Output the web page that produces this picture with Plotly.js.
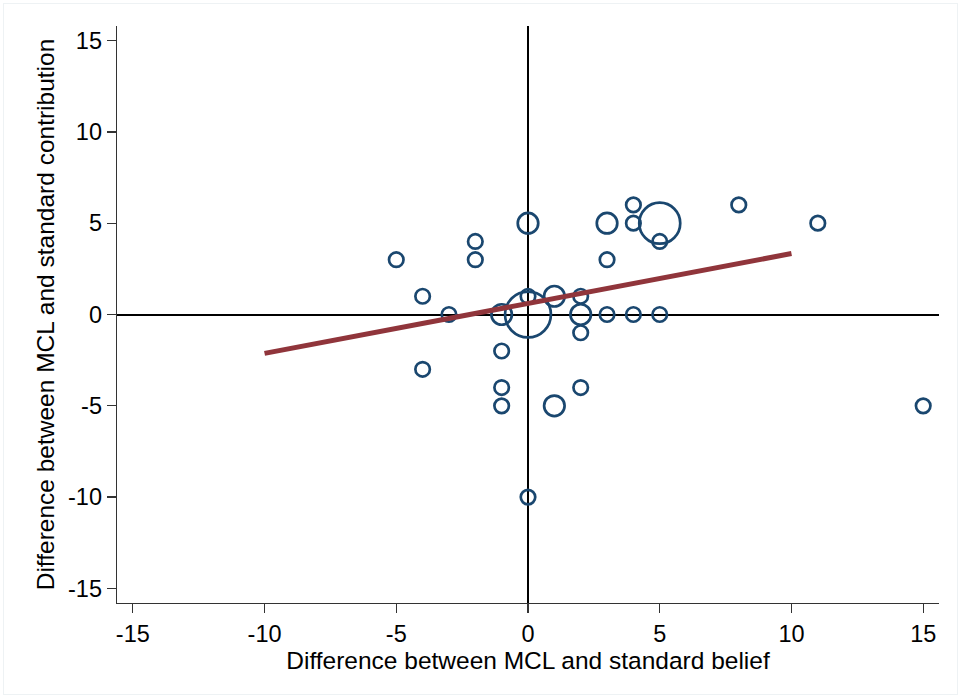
<!DOCTYPE html>
<html>
<head>
<meta charset="utf-8">
<script src="https://cdn.plot.ly/plotly-3.0.1.min.js"></script>
<style>
  html, body { margin: 0; padding: 0; background: #ffffff; }
  #wrap { position: relative; width: 963px; height: 700px; }
  #frame { position: absolute; left: 3px; top: 3px; width: 955px; height: 692px; border: 1px solid #eef2f4; box-sizing: border-box; pointer-events: none; }
  #chart { position: absolute; left: 0; top: 0; width: 963px; height: 700px; }
</style>
</head>
<body>
<div id="wrap">
  <div id="chart"></div>
  <div id="frame"></div>
</div>
<script>
// Observed points: belief difference (x), contribution difference (y), frequency weight
const beliefDiff = [-5, -2, -2, -4, -3, -1, 0, 0, 1, 2, 2, 2, 3, 4, 5, 0, 3, 3, 4, 4, 5, 5, -1, -4, -1, -1, 1, 2, 0, 8, 11, 15];
const contribDiff = [3, 4, 3, 1, 0, 0, 0, 1, 1, 1, 0, -1, 0, 0, 0, 5, 5, 3, 6, 5, 5, 4, -2, -3, -4, -5, -5, -4, -10, 6, 5, -5];
const weights = [1, 1, 1, 1, 1, 2, 10, 1, 2, 1, 2, 1, 1, 1, 1, 2, 2, 1, 1, 1, 8, 1, 1, 1, 1, 1, 2, 1, 1, 1, 1, 1];

// Linear fit line
const fitX = [-10, 10];
const fitY = [-2.13, 3.34];

const xTicks = [-15, -10, -5, 0, 5, 10, 15];
const yTicks = [-15, -10, -5, 0, 5, 10, 15];

const baseMarker = 14.5;
const markerSizes = weights.map(w => baseMarker * Math.sqrt(w));

const traces = [
  {
    type: 'scatter', mode: 'markers',
    x: beliefDiff, y: contribDiff,
    marker: {
      symbol: 'circle',
      size: markerSizes,
      opacity: 1,
      color: 'rgba(0,0,0,0)',
      line: { color: '#1a476f', width: 2.7 }
    },
    hoverinfo: 'x+y',
    showlegend: false
  },
  {
    type: 'scatter', mode: 'lines',
    x: fitX, y: fitY,
    line: { color: '#90353b', width: 5 },
    showlegend: false
  }
];

const fontFam = '"Liberation Sans", Arial, sans-serif';

const layout = {
  width: 963, height: 700,
  paper_bgcolor: 'rgba(0,0,0,0)',
  plot_bgcolor: '#ffffff',
  margin: { l: 117, r: 24, t: 26, b: 97 },
  font: { family: fontFam, color: '#000000', size: 23.5 },
  showlegend: false,
  xaxis: {
    range: [-15.6, 15.6],
    tickmode: 'array', tickvals: xTicks, ticktext: xTicks.map(String),
    ticks: 'outside', ticklen: 9, tickwidth: 1.3, tickcolor: '#333333',
    showline: true, linecolor: '#333333', linewidth: 1.3,
    showgrid: false,
    zeroline: true, zerolinecolor: '#000000', zerolinewidth: 2,
    tickfont: { family: fontFam, size: 23.5, color: '#000000' },
    title: { text: 'Difference between MCL and standard belief', font: { family: fontFam, size: 24.5, color: '#000000' }, standoff: 0 },
    fixedrange: true
  },
  yaxis: {
    range: [-15.8, 15.8],
    tickmode: 'array', tickvals: yTicks, ticktext: yTicks.map(String),
    ticks: 'outside', ticklen: 9, tickwidth: 1.3, tickcolor: '#333333',
    showline: true, linecolor: '#333333', linewidth: 1.3,
    showgrid: false,
    zeroline: true, zerolinecolor: '#000000', zerolinewidth: 2,
    tickfont: { family: fontFam, size: 23.5, color: '#000000' },
    title: { text: 'Difference between MCL and standard contribution', font: { family: fontFam, size: 24.5, color: '#000000' }, standoff: 6 },
    fixedrange: true
  }
};

Plotly.newPlot('chart', traces, layout, { displayModeBar: false, staticPlot: true });
</script>
</body>
</html>
